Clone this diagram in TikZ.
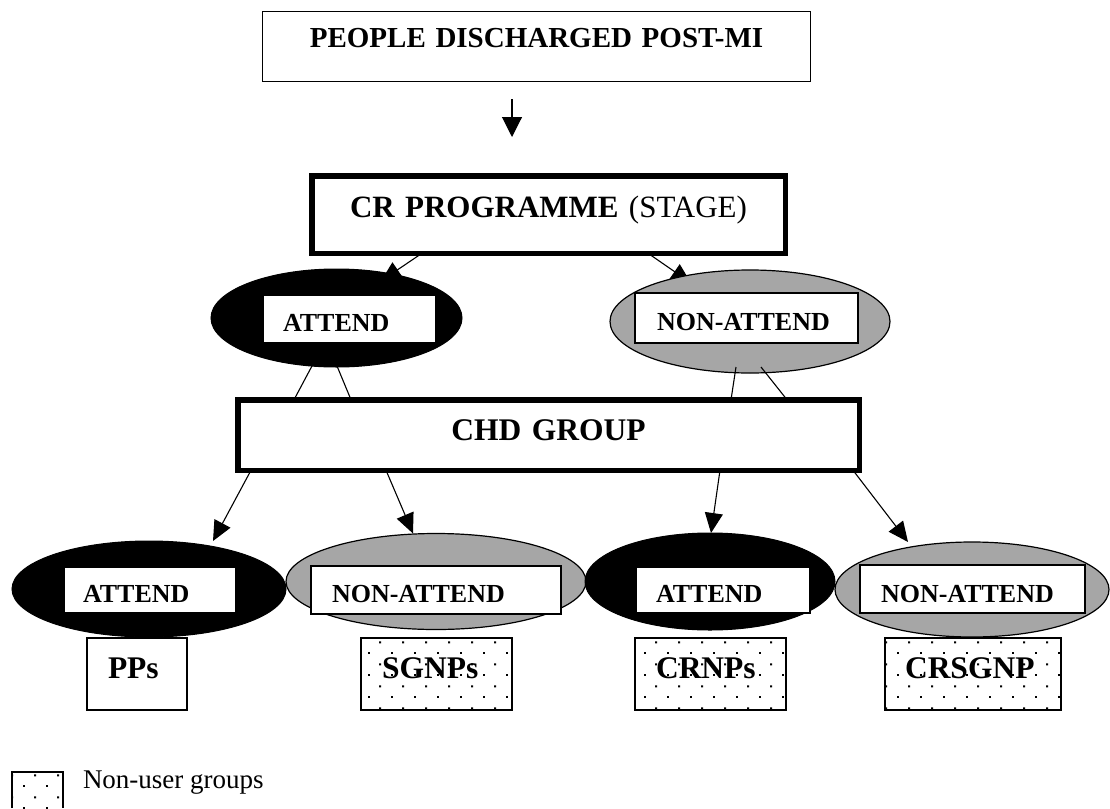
\documentclass[tikz,border=0pt]{standalone}
\usepackage{fontspec}
\setmainfont{Liberation Serif}
\usetikzlibrary{shapes.geometric,arrows.meta,patterns,backgrounds,calc}

\pgfdeclarepatternformonly{nudots}{\pgfpointorigin}{\pgfqpoint{23pt}{22pt}}{\pgfqpoint{23pt}{22pt}}{%
  \pgfpathrectangle{\pgfqpoint{0pt}{0pt}}{\pgfqpoint{2pt}{2pt}}%
  \pgfpathrectangle{\pgfqpoint{11.5pt}{11pt}}{\pgfqpoint{2pt}{2pt}}%
  \pgfusepath{fill}}

\definecolor{ngray}{RGB}{166,166,166}

\tikzset{
  every node/.style={inner sep=0pt, outer sep=0pt},
  thinbox/.style={draw, line width=1.3pt, fill=white, anchor=north west},
  thickbox/.style={draw, line width=5.5pt, fill=white, anchor=north west, align=center},
  inbox/.style={draw, line width=1.1pt, fill=white, anchor=north west, align=left,
    font=\bfseries\fontsize{26}{30}\selectfont},
  grpbox/.style={thinbox, align=left, text height=40pt, text depth=32pt,
    font=\bfseries\fontsize{31.5}{36}\selectfont},
  dotbox/.style={grpbox, pattern=nudots},
  blackell/.style={ellipse, draw, line width=1pt, fill=black},
  grayell/.style={ellipse, draw, line width=1.2pt, fill=ngray},
  arr/.style={line width=1.1pt, -{Triangle[length=20pt,width=18pt]}},
  ln/.style={line width=1.1pt},
}

\begin{document}
\begin{tikzpicture}[x=1pt,y=-1pt]
\useasboundingbox (0,0) rectangle (1110,808);

% top box
\node[thinbox, align=center, text width=547.8pt, text height=36.4pt, text depth=33.4pt,
  font=\bfseries\fontsize{29}{34}\selectfont] (top) at (262.6,11.6) {PEOPLE DISCHARGED POST-MI};
\coordinate (a1) at (512,99);
\coordinate (a2) at (512,137);

% CR programme
\node[thickbox, text width=473.5pt, text height=41.25pt, text depth=36.25pt,
  font=\fontsize{31}{36}\selectfont] (cr) at (311.75,175.75) {\textbf{CR PROGRAMME} (STAGE)\hspace*{7pt}};

% stage ellipses
\node[blackell, minimum width=251pt, minimum height=98pt] (att) at (336.5,318) {};
\node[inbox, text width=173pt, text height=36pt, text depth=12pt] (attb) at (263,295) {\hspace*{20pt}ATTEND};
\node[grayell, minimum width=280pt, minimum height=103pt] (natt) at (750,321.5) {};
\node[inbox, text width=223pt, text height=37pt, text depth=13pt] (nattb) at (635,293) {\hspace*{22pt}NON-ATTEND};

% CHD group
\node[thickbox, text width=621.5pt, text height=40.25pt, text depth=30.25pt,
  font=\bfseries\fontsize{31.5}{36}\selectfont] (chd) at (237.75,399.75) {CHD GROUP};

% bottom ellipses
\node[blackell, minimum width=274pt, minimum height=96pt] (e1) at (149,589) {};
\node[grayell, minimum width=300pt, minimum height=96pt] (e2) at (436,581.5) {};
\node[blackell, minimum width=250pt, minimum height=97pt] (e3) at (710,581.5) {};
\node[grayell, minimum width=274pt, minimum height=95pt] (e4) at (972,589.5) {};

\node[inbox, text width=172pt, text height=35pt, text depth=11pt] (b1) at (64,567) {\hspace*{19pt}ATTEND};
\node[inbox, text width=250pt, text height=36pt, text depth=12pt] (b2) at (311,566) {\hspace*{21pt}NON-ATTEND};
\node[inbox, text width=174pt, text height=35pt, text depth=11pt] (b3) at (636,567) {\hspace*{20pt}ATTEND};
\node[inbox, text width=225pt, text height=37pt, text depth=11pt] (b4) at (860,565) {\hspace*{21pt}NON-ATTEND};

% groups
\node[grpbox, text width=100pt] (pp) at (87,638) {\hspace*{21pt}PPs};
\node[dotbox, text width=151pt] (sg) at (361,638) {\hspace*{21pt}SGNPs};
\node[dotbox, text width=151pt] (crn) at (635,638) {\hspace*{21pt}CRNPs};
\node[dotbox, text width=176pt] (crs) at (885,638) {\hspace*{20pt}CRSGNP};

% legend
\node[anchor=north west, minimum width=51pt, minimum height=36pt, pattern=nudots] (leg) at (12,772) {};
\draw[line width=1.2pt] (leg.south west) -- (leg.north west) -- (leg.north east) -- (leg.south east);
\node[anchor=base west, font=\fontsize{27}{32}\selectfont] (legt) at (83,788) {Non-user groups};

% connectors behind shapes
\begin{scope}[on background layer]
\draw[arr, -{Triangle[length=20pt,width=20pt]}] (a1) -- (a2);
\draw[arr] ([xshift=-126.5pt]cr.south) -- ([xshift=44.5pt,yshift=-12pt]att.north);
\draw[arr] ([xshift=99.5pt]cr.south) -- ([xshift=-59pt,yshift=-13pt]natt.north);
\draw[arr] ([xshift=-297.5pt]chd.south) -- ([xshift=64pt]e1.north);
\draw[arr] ([xshift=-162.5pt]chd.south) -- ([xshift=-23pt]e2.north);
\draw[arr] ([xshift=171.5pt]chd.south) -- ([xshift=1pt]e3.north);
\draw[arr] ([xshift=304.5pt]chd.south) -- ([xshift=-64pt]e4.north);
\end{scope}

% lines from CHD group up to stage ellipses
\draw[ln] ([xshift=-254.5pt]chd.north) -- ([xshift=-24pt,yshift=2pt]att.south);
\draw[ln] ([xshift=-197.5pt]chd.north) -- ([xshift=0.5pt,yshift=1pt]att.south);
\draw[ln] ([xshift=182.5pt]chd.north) -- ([xshift=-14pt,yshift=6pt]natt.south);
\draw[ln] ([xshift=238.5pt]chd.north) -- ([xshift=11pt,yshift=6pt]natt.south);
\end{tikzpicture}
\end{document}
